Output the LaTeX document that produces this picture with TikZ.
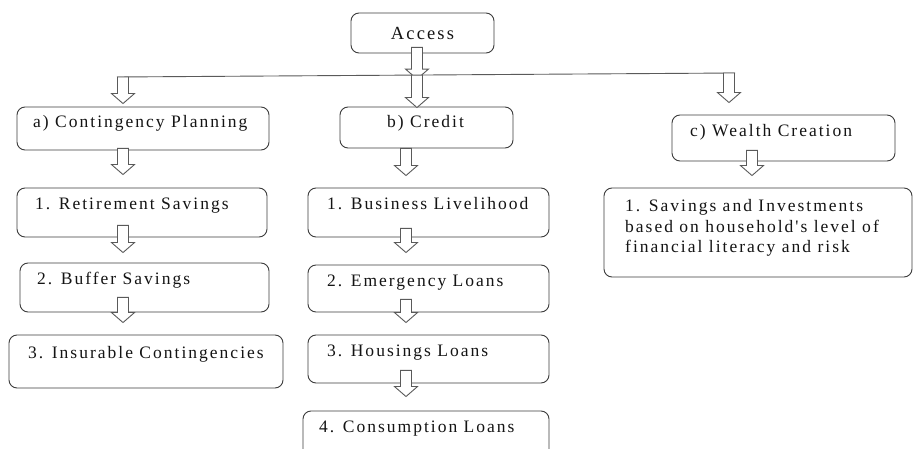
\documentclass[tikz,border=0pt]{standalone}
\usepackage{fontspec}
\setmainfont{Liberation Serif}[LetterSpace=11.5, Ligatures=TeXOff]
\usetikzlibrary{calc}
\definecolor{boxgray}{HTML}{3C3C3C}
\definecolor{arrgray}{HTML}{5A5A5A}
\definecolor{txtcol}{HTML}{141414}
\newcommand\harrow[2]{%
  \path #1 coordinate (hs) #2 coordinate (he);
  \draw[blk] let \p1=(hs), \p2=(he) in
    (\x1-5.5pt,\y1) -- (\x1+5.5pt,\y1) -- (\x1+5.5pt,\y2+10pt) -- (\x1+11.5pt,\y2+10pt)
    -- (\x1,\y2) -- (\x1-11.5pt,\y2+10pt) -- (\x1-5.5pt,\y2+10pt) -- cycle;}
\begin{document}
\begin{tikzpicture}[x=1pt,y=-1pt,
  box/.style={draw=boxgray, rounded corners=8pt, line width=0.9pt, inner sep=0pt, fill=white},
  blk/.style={draw=arrgray, fill=white, line width=0.9pt, line join=miter},
  txt/.style={font=\fontsize{17.5}{21}\selectfont, text=txtcol, anchor=base west, inner sep=0pt},
  ln/.style={draw=arrgray, line width=0.9pt}]
\clip (0,0) rectangle (914,449);
\fill[white] (0,0) rectangle (914,449);
% boxes
\node[box, minimum width=143pt, minimum height=40pt, font=\fontsize{18.5}{22}\selectfont, text=txtcol] (acc) at (422.5,33) {Access};
\node[box, minimum width=252pt, minimum height=43pt] (cp) at (143,128.5) {};
\node[box, minimum width=250pt, minimum height=49pt] (rs) at (142,212.5) {};
\node[box, minimum width=249pt, minimum height=49pt] (bs) at (144.5,287.5) {};
\node[box, minimum width=274pt, minimum height=53pt] (ic) at (146,361.5) {};
\node[box, minimum width=173pt, minimum height=41pt] (cr) at (426.5,127.5) {};
\node[box, minimum width=241pt, minimum height=49pt] (bl) at (428.5,212.5) {};
\node[box, minimum width=241pt, minimum height=47pt] (el) at (428.5,288.5) {};
\node[box, minimum width=241pt, minimum height=48pt] (hol) at (428.5,359) {};
\node[box, minimum width=246pt, minimum height=54pt] (cl) at (426,438) {};
\node[box, minimum width=223pt, minimum height=46pt] (wc) at (783.5,138) {};
\node[box, minimum width=308pt, minimum height=89pt] (si) at (758,232.5) {};
% texts
\node[txt] (tcp) at (33,128) {a) Contingency Planning};
\node[txt] (trs) at (35,210) {1. Retirement Savings};
\node[txt] (tbs) at (37,285) {2. Buffer Savings};
\node[txt] (tic) at (28,359) {3. Insurable Contingencies};
\node[txt] (tcr) at (387,128) {b) Credit};
\node[txt] (tbl) at (327,210) {1. Business Livelihood};
\node[txt] (tel) at (327,287) {2. Emergency Loans};
\node[txt] (thl) at (327,357) {3. Housings Loans};
\node[txt] (tcl) at (319,432) {4. Consumption Loans};
\node[txt] (twc) at (690,137) {c) Wealth Creation};
\node[txt] (tsi1) at (625,212) {1. Savings and Investments};
\node[txt] (tsi2) at (625,233) {based on household's level of};
\node[txt] (tsi3) at (625,253) {financial literacy and risk};
% branching line
\coordinate (lineL) at (117,77);
\coordinate (lineR) at (735,73);
\coordinate (lineM) at ($(lineL)!0.4854!(lineR)$);
\draw[ln] (lineL) -- (lineR);
% arrows
\harrow{($(acc.south -| 417,0)+(0,-6)$)}{($(lineM)+(0,4)$)}
\harrow{(lineM)}{($(cr.north -| 417,0)+(0,1)$)}
\harrow{($(lineL)+(6,0)$)}{($(cp.north -| 123,0)+(0,-3)$)}
\harrow{($(lineR)+(-6,0)$)}{($(wc.north -| 729,0)+(0,-12)$)}
\harrow{($(cp.south -| 123,0)+(0,-2)$)}{($(rs.north -| 123,0)+(0,-13)$)}
\harrow{($(rs.south -| 123,0)+(0,-12)$)}{($(bs.north -| 123,0)+(0,-10)$)}
\harrow{($(bs.south -| 123,0)+(0,-15)$)}{($(ic.north -| 123,0)+(0,-12)$)}
\harrow{($(cr.south -| 406,0)+(0,0)$)}{($(bl.north -| 406,0)+(0,-12)$)}
\harrow{($(bl.south -| 406,0)+(0,-9)$)}{($(el.north -| 406,0)+(0,-12)$)}
\harrow{($(el.south -| 406,0)+(0,-13)$)}{($(hol.north -| 406,0)+(0,-12)$)}
\harrow{($(hol.south -| 406,0)+(0,-13)$)}{($(cl.north -| 406,0)+(0,-14)$)}
\harrow{($(wc.south -| 752,0)+(0,-11)$)}{($(si.north -| 752,0)+(0,-12)$)}
\end{tikzpicture}
\end{document}
